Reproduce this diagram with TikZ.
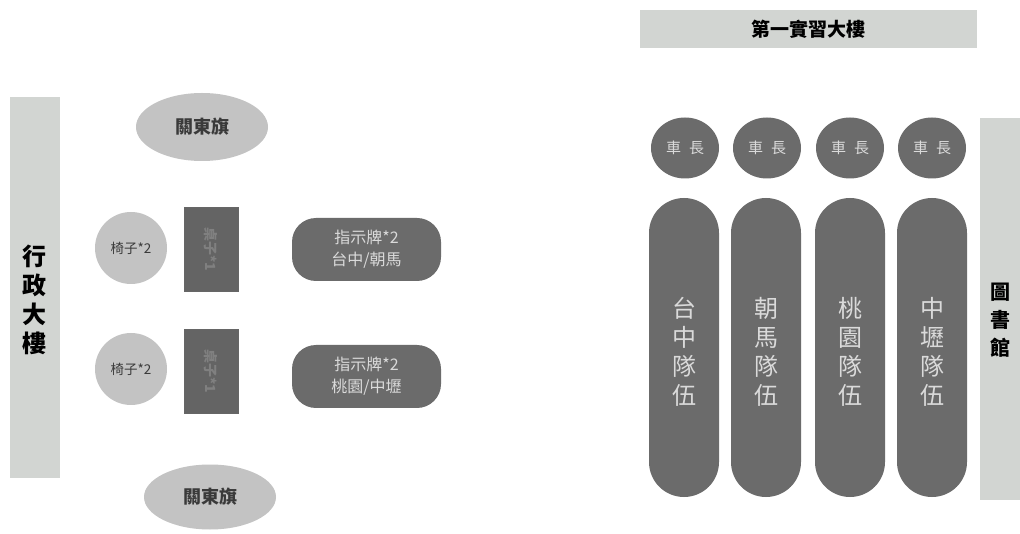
\documentclass[tikz,border=0pt]{standalone}
\usepackage{fontspec}
\setmainfont{Noto Sans CJK TC}
\usetikzlibrary{shapes.geometric}
\definecolor{barc}{HTML}{D2D5D2}
\definecolor{lightc}{HTML}{C3C3C3}
\definecolor{darkc}{HTML}{6B6B6B}
\definecolor{textlight}{HTML}{DADADA}
\definecolor{textdark}{HTML}{3A3A3A}
\tikzset{
  bar/.style={fill=barc, draw=none, inner sep=0pt},
  flag/.style={ellipse, fill=lightc, draw=none, inner sep=0pt, text=textdark,
    font=\fontsize{18}{20}\selectfont\bfseries},
  chair/.style={circle, fill=lightc, draw=none, minimum size=72pt, inner sep=0pt,
    text=textdark, font=\fontsize{13.5}{15}\selectfont},
  table/.style={rectangle, fill=darkc!105, draw=black!60, line width=0.6pt,
    minimum width=54pt, minimum height=84pt, inner sep=0pt},
  tabletext/.style={text=black!50, rotate=-90, inner sep=0pt,
    font=\fontsize{14}{16}\selectfont\bfseries},
  sign/.style={rectangle, rounded corners=24pt, fill=darkc, draw=none,
    minimum width=149pt, minimum height=63pt, inner sep=0pt, text=textlight,
    align=center, font=\fontsize{16}{22}\selectfont},
  leader/.style={ellipse, fill=darkc, draw=none, minimum width=68pt,
    minimum height=61pt, inner sep=0pt, text=textlight,
    font=\fontsize{15}{17}\selectfont},
  team/.style={rectangle, rounded corners=35pt, fill=darkc, draw=none,
    minimum width=70pt, minimum height=299pt, inner sep=0pt},
  teamtext/.style={text=textlight, align=center, inner sep=0pt,
    font=\fontsize{24}{29}\selectfont},
  bigtext/.style={text=black, align=center, inner sep=0pt,
    font=\fontsize{22}{29}\selectfont\bfseries}
}
\begin{document}
\begin{tikzpicture}[x=1pt,y=-1pt]
\useasboundingbox[fill=white] (0,0) rectangle (1020,534);

% left building
\node[bar, minimum width=50pt, minimum height=381pt] (admin) at (35,287.5) {};
\node[bigtext, font=\fontsize{24}{29}\selectfont\bfseries] (admintext) at (35,300) {行\\政\\大\\樓};

% flags
\node[flag, minimum width=132pt, minimum height=68pt] (flagtop) at (202,127) {關東旗};
\node[flag, minimum width=132pt, minimum height=65pt] (flagbot) at (210,497) {關東旗};

% chairs
\node[chair] (chair1) at (131,248) {椅子*2};
\node[chair] (chair2) at (131,369) {椅子*2};

% tables
\node[table] (table1) at (211,249) {};
\node[tabletext] (table1t) at (table1) {桌子*1};
\node[table] (table2) at (211,371) {};
\node[tabletext] (table2t) at (table2) {桌子*1};

% signs
\node[sign] (sign1) at (366.5,249.5) {指示牌*2\\台中/朝馬};
\node[sign] (sign2) at (366.5,376.5) {指示牌*2\\桃園/中壢};

% top building
\node[bar, minimum width=337pt, minimum height=38pt,
  font=\fontsize{19}{21}\selectfont\bfseries] (lab) at (808.5,29) {第一實習大樓};

% right building
\node[bar, minimum width=40pt, minimum height=382pt] (lib) at (1000,309) {};
\node[bigtext, font=\fontsize{20}{28}\selectfont\bfseries] (libtext) at (1000,320) {圖\\書\\館};

% leaders
\node[leader] (lead1) at (685,148) {車\hspace{8pt}長};
\node[leader] (lead2) at (767,148) {車\hspace{8pt}長};
\node[leader] (lead3) at (850,148) {車\hspace{8pt}長};
\node[leader] (lead4) at (932,148) {車\hspace{8pt}長};

% teams
\node[team] (team1) at (684,347.5) {};
\node[team] (team2) at (766,347.5) {};
\node[team] (team3) at (850,347.5) {};
\node[team] (team4) at (932,347.5) {};
\node[teamtext] (team1t) at (684,352) {台\\中\\隊\\伍};
\node[teamtext] (team2t) at (766,352) {朝\\馬\\隊\\伍};
\node[teamtext] (team3t) at (850,352) {桃\\園\\隊\\伍};
\node[teamtext] (team4t) at (932,352) {中\\壢\\隊\\伍};
\end{tikzpicture}
\end{document}
